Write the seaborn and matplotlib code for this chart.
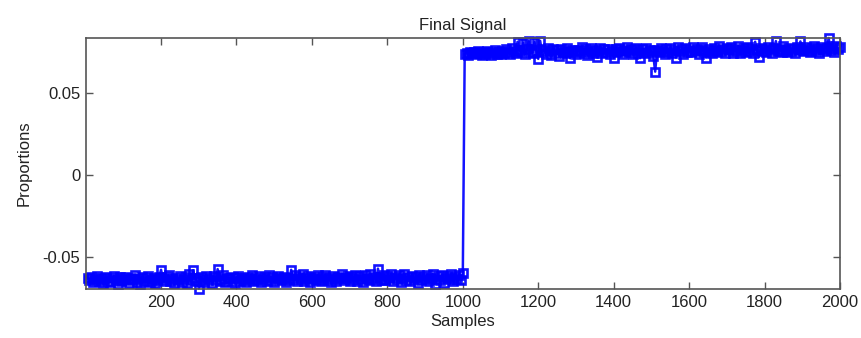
import numpy as np
import pandas as pd
import matplotlib
matplotlib.use("Agg")
import matplotlib.pyplot as plt
import seaborn as sns

# ---- data (every 5th sample) ----
lower_vals = [
    -0.0628,-0.0641,-0.0622,-0.0655,-0.0633,-0.0618,-0.0647,-0.0626,-0.0660,-0.0637,-0.0621,-0.0644,-0.0652,-0.0629,-0.0615,-0.0639,-0.0662,-0.0624,-0.0648,-0.0631,
    -0.0619,-0.0643,-0.0657,-0.0627,-0.0636,-0.0611,-0.0650,-0.0633,-0.0664,-0.0622,-0.0645,-0.0630,-0.0616,-0.0653,-0.0638,-0.0625,-0.0659,-0.0641,-0.0620,-0.0578,
    -0.0634,-0.0649,-0.0623,-0.0612,-0.0646,-0.0631,-0.0656,-0.0626,-0.0640,-0.0617,-0.0651,-0.0635,-0.0624,-0.0658,-0.0603,-0.0642,-0.0580,-0.0628,-0.0647,-0.0692,
    -0.0621,-0.0637,-0.0654,-0.0615,-0.0643,-0.0629,-0.0661,-0.0618,-0.0639,-0.0574,-0.0648,-0.0633,-0.0609,-0.0652,-0.0625,-0.0627,-0.0644,-0.0619,-0.0657,-0.0630,
    -0.0614,-0.0646,-0.0626,-0.0638,-0.0651,-0.0620,-0.0635,-0.0607,-0.0649,-0.0628,-0.0643,-0.0616,-0.0655,-0.0632,-0.0621,-0.0645,-0.0610,-0.0639,-0.0624,-0.0650,
    -0.0627,-0.0613,-0.0642,-0.0633,-0.0619,-0.0654,-0.0625,-0.0640,-0.0578,-0.0636,-0.0612,-0.0648,-0.0622,-0.0637,-0.0606,-0.0644,-0.0629,-0.0617,-0.0653,-0.0631,
    -0.0620,-0.0641,-0.0611,-0.0635,-0.0649,-0.0624,-0.0608,-0.0638,-0.0626,-0.0652,-0.0615,-0.0633,-0.0645,-0.0619,-0.0630,-0.0604,-0.0641,-0.0627,-0.0613,-0.0647,
    -0.0623,-0.0636,-0.0609,-0.0644,-0.0618,-0.0631,-0.0655,-0.0612,-0.0628,-0.0640,-0.0605,-0.0634,-0.0621,-0.0648,-0.0571,-0.0625,-0.0639,-0.0610,-0.0643,-0.0617,
    -0.0630,-0.0606,-0.0645,-0.0622,-0.0636,-0.0611,-0.0650,-0.0627,-0.0603,-0.0638,-0.0619,-0.0646,-0.0614,-0.0632,-0.0624,-0.0657,-0.0608,-0.0641,-0.0620,-0.0635,
    -0.0612,-0.0647,-0.0626,-0.0604,-0.0663,-0.0633,-0.0618,-0.0642,-0.0609,-0.0659,-0.0628,-0.0615,-0.0637,-0.0602,-0.0644,-0.0621,-0.0631,-0.0607,-0.0640,-0.0598,
]
upper_vals = [
    0.0738,0.0745,0.0731,0.0752,0.0741,0.0748,0.0736,0.0756,0.0743,0.0729,0.0750,0.0739,0.0757,0.0744,0.0733,0.0751,0.0762,0.0740,0.0747,0.0735,
    0.0755,0.0742,0.0768,0.0749,0.0736,0.0773,0.0758,0.0744,0.0812,0.0761,0.0747,0.0805,0.0738,0.0766,0.0815,0.0752,0.0743,0.0810,0.0757,0.0708,
    0.0818,0.0749,0.0763,0.0740,0.0771,0.0754,0.0733,0.0766,0.0745,0.0759,0.0728,0.0769,0.0751,0.0742,0.0775,0.0757,0.0711,0.0764,0.0748,0.0737,
    0.0761,0.0753,0.0779,0.0742,0.0767,0.0731,0.0758,0.0772,0.0746,0.0762,0.0717,0.0754,0.0776,0.0743,0.0765,0.0750,0.0770,0.0739,0.0757,0.0714,
    0.0768,0.0747,0.0774,0.0756,0.0735,0.0763,0.0781,0.0749,0.0770,0.0738,0.0759,0.0777,0.0745,0.0712,0.0766,0.0752,0.0773,0.0741,0.0760,0.0754,
    0.0728,0.0630,0.0762,0.0748,0.0776,0.0757,0.0739,0.0769,0.0751,0.0774,0.0743,0.0761,0.0716,0.0778,0.0755,0.0765,0.0737,0.0771,0.0750,0.0760,
    0.0747,0.0779,0.0756,0.0768,0.0740,0.0763,0.0782,0.0752,0.0715,0.0770,0.0758,0.0745,0.0775,0.0761,0.0749,0.0784,0.0757,0.0766,0.0742,0.0772,
    0.0759,0.0778,0.0746,0.0767,0.0753,0.0785,0.0741,0.0764,0.0771,0.0750,0.0780,0.0757,0.0769,0.0743,0.0812,0.0762,0.0718,0.0776,0.0755,0.0767,
    0.0750,0.0783,0.0761,0.0744,0.0774,0.0816,0.0758,0.0768,0.0751,0.0786,0.0763,0.0747,0.0777,0.0756,0.0770,0.0745,0.0781,0.0759,0.0814,0.0766,
    0.0753,0.0779,0.0762,0.0748,0.0773,0.0787,0.0757,0.0769,0.0744,0.0782,0.0765,0.0754,0.0776,0.0835,0.0760,0.0771,0.0749,0.0784,0.0766,0.0778,
]
lower_samples = np.arange(5, 1001, 5)          # 5 ... 1000
upper_samples = np.arange(1005, 2001, 5)       # 1005 ... 2000

x_ticks = [200, 400, 600, 800, 1000, 1200, 1400, 1600, 1800, 2000]
y_ticks = [-0.05, 0.0, 0.05]
y_tick_labels = ["-0.05", "0", "0.05"]

df = pd.DataFrame({
    "Samples": np.concatenate([lower_samples, upper_samples]),
    "Proportions": lower_vals + upper_vals,
})

sns.set_theme(style="white")
plt.rcParams["font.family"] = ["Liberation Sans", "DejaVu Sans"]

fig = plt.figure(figsize=(8.61, 3.38), dpi=100)
ax = fig.add_axes([86/861, 1-289/338, (840-86)/861, (289-38)/338])

sns.lineplot(data=df, x="Samples", y="Proportions", ax=ax, estimator=None,
             sort=True, color=(0, 0, 1), linewidth=1.8, marker="s",
             markersize=6.3, markerfacecolor="none", markeredgecolor=(0, 0, 1),
             markeredgewidth=1.9, clip_on=False)
ax.lines[0].set_alpha(0.92)

ax.set_xlim(1, 2000)
ax.set_ylim(-0.0695, 0.0835)
ax.set_xticks(x_ticks)
ax.set_xticklabels([str(t) for t in x_ticks])
ax.set_yticks(y_ticks)
ax.set_yticklabels(y_tick_labels)

txt_color = "#222222"
ax.tick_params(direction="in", length=5, width=1, colors="#555555",
               labelcolor=txt_color, labelsize=12, top=True, right=True,
               bottom=True, left=True, pad=4)
for s in ax.spines.values():
    s.set_visible(True)
    s.set_color("#555555")
    s.set_linewidth(1.2)

ax.set_title("Final Signal", fontsize=12, color=txt_color, pad=6)
ax.set_xlabel("Samples", fontsize=12, color=txt_color, labelpad=3)
ax.set_ylabel("Proportions", fontsize=12, color=txt_color, labelpad=8)

fig.savefig("out.png", dpi=100)
